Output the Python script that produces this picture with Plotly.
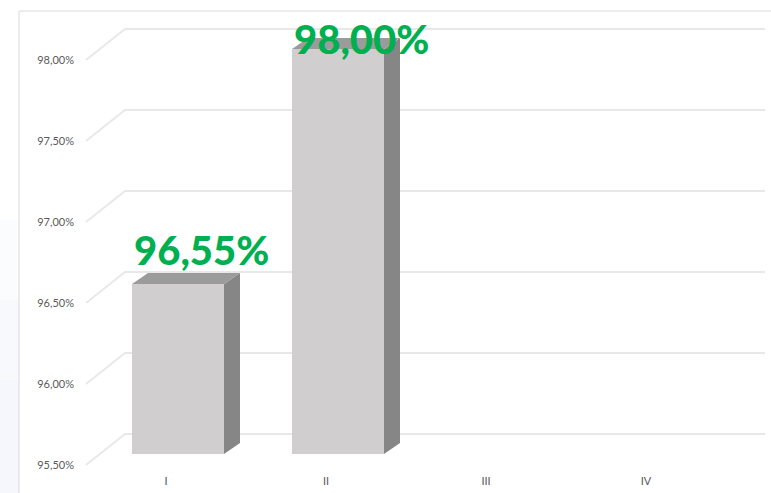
import plotly.graph_objects as go

# ---- data -------------------------------------------------------------
categories = ["I", "II", "III", "IV"]
values = [96.55, 98.00, None, None]
value_labels = ["96,55%", "98,00%", "", ""]
y_ticks = [95.5, 96.0, 96.5, 97.0, 97.5, 98.0]
y_tick_labels = ["95,50%", "96,00%", "96,50%", "97,00%", "97,50%", "98,00%"]
BASE = 95.5

# ---- geometry (pixels) ------------------------------------------------
W, H = 771, 493
L, R, T, B = 79, 0, 20, 23
SX = 160.0        # px per category step
SY = 162.0        # px per percentage point
CAT0_PX = 166     # front-plane centre of first category
BASE_PX = 465     # front-plane pixel row of the base value

BAR_FRONT = (12, 11)   # bar front face offset from front plane (right, up)
BAR_DEPTH = (16, 11)   # bar depth (right, up)
WALL = (39, 31)        # back wall offset from front plane (right, up)
BAR_W_PX = 92
LABEL_SHIFT = (23, 34)
LABEL_TOP_PX = 39      # highest centre row for a value label

plot_w = W - L - R
plot_h = H - T - B
x_rng = [-(CAT0_PX - L) / SX, -(CAT0_PX - L) / SX + plot_w / SX]
y_rng = [BASE - (H - B - BASE_PX) / SY, BASE - (H - B - BASE_PX) / SY + plot_h / SY]


def shifted(rng, d, s):
    return [rng[0] - d / s, rng[1] - d / s]


x2_rng = shifted(x_rng, BAR_FRONT[0], SX)
y2_rng = shifted(y_rng, BAR_FRONT[1], SY)
bar_w = BAR_W_PX / SX
ddx, ddy = BAR_DEPTH[0] / SX, BAR_DEPTH[1] / SY

FRONT = "#d0cecf"
SIDE = "#868686"
TOP = "#9b9b9b"
GRID = "#e8e8e8"
TEXT = "#595959"
GREEN = "#00b050"

idx = [i for i, v in enumerate(values) if v is not None]

fig = go.Figure()
fig.add_trace(go.Bar(
    x=idx,
    y=[values[i] - BASE for i in idx],
    base=BASE,
    width=bar_w,
    marker=dict(color=FRONT, line=dict(width=0)),
    xaxis="x2", yaxis="y2",
    hoverinfo="skip",
    showlegend=False,
))

shapes = []

# back wall gridlines with their depth diagonals
wx, wy = WALL[0] / SX, WALL[1] / SY
n = len(categories)
for t in y_ticks:
    shapes.append(dict(
        type="path", xref="x", yref="y", layer="below",
        path=f"M {-0.5},{t} L {-0.5 + wx},{t + wy} L {n - 0.5 + wx},{t + wy}",
        line=dict(color=GRID, width=1.8),
    ))

# side and top faces of the bars
for i in idx:
    v = values[i]
    xl, xr = i - bar_w / 2, i + bar_w / 2
    shapes.append(dict(
        type="path", xref="x2", yref="y2", layer="above",
        path=f"M {xr},{BASE} L {xr + ddx},{BASE + ddy} L {xr + ddx},{v + ddy} L {xr},{v} Z",
        fillcolor=SIDE, line=dict(width=0),
    ))
    shapes.append(dict(
        type="path", xref="x2", yref="y2", layer="above",
        path=f"M {xl},{v} L {xr},{v} L {xr + ddx},{v + ddy} L {xl + ddx},{v + ddy} Z",
        fillcolor=TOP, line=dict(width=0),
    ))

# chart frame and a faint page tint at the lower left
px_x = lambda p: (p - L) / plot_w
px_y = lambda p: (H - B - p) / plot_h
for top_px, tint in [(220, "#fbfcfe"), (300, "#f8f9fd"), (380, "#f5f7fc")]:
    shapes.append(dict(type="rect", xref="paper", yref="paper", layer="below",
                       x0=px_x(0), x1=px_x(19), y0=px_y(493), y1=px_y(top_px),
                       fillcolor=tint, line=dict(width=0)))
shapes.append(dict(type="path", xref="paper", yref="paper", layer="above",
                   path=f"M {px_x(19)},{px_y(493)} L {px_x(19)},{px_y(11)} L {px_x(771)},{px_y(11)}",
                   line=dict(color="#d9d9d9", width=1)))

# value labels
bar_base_px = BASE_PX - BAR_FRONT[1]
label_ceil = BASE + (bar_base_px - (LABEL_TOP_PX + LABEL_SHIFT[1])) / SY
annotations = []
for i in idx:
    annotations.append(dict(
        xref="x2", yref="y2", x=i, y=min(values[i], label_ceil),
        xshift=LABEL_SHIFT[0], yshift=LABEL_SHIFT[1],
        text=value_labels[i], showarrow=False,
        xanchor="center", yanchor="middle",
        font=dict(family="Lato", size=40, color=GREEN, weight=900),
    ))

axis_common = dict(showgrid=False, zeroline=False, showline=False, ticks="",
                   fixedrange=True)
fig.update_layout(
    width=W, height=H,
    margin=dict(l=L, r=R, t=T, b=B, pad=0),
    paper_bgcolor="white", plot_bgcolor="rgba(0,0,0,0)",
    bargap=0,
    xaxis=dict(range=x_rng, tickvals=list(range(n)), ticktext=categories,
               tickfont=dict(family="Lato", size=11, color=TEXT),
               ticklabelstandoff=3, **axis_common),
    yaxis=dict(range=y_rng, tickvals=y_ticks, ticktext=y_tick_labels,
               tickfont=dict(family="Lato", size=11, color=TEXT),
               ticklabelstandoff=4, **axis_common),
    xaxis2=dict(range=x2_rng, overlaying="x", visible=False, anchor="y2", **axis_common),
    yaxis2=dict(range=y2_rng, overlaying="y", visible=False, anchor="x2", **axis_common),
    shapes=shapes,
    annotations=annotations,
    showlegend=False,
)

fig.write_html("out.html")
